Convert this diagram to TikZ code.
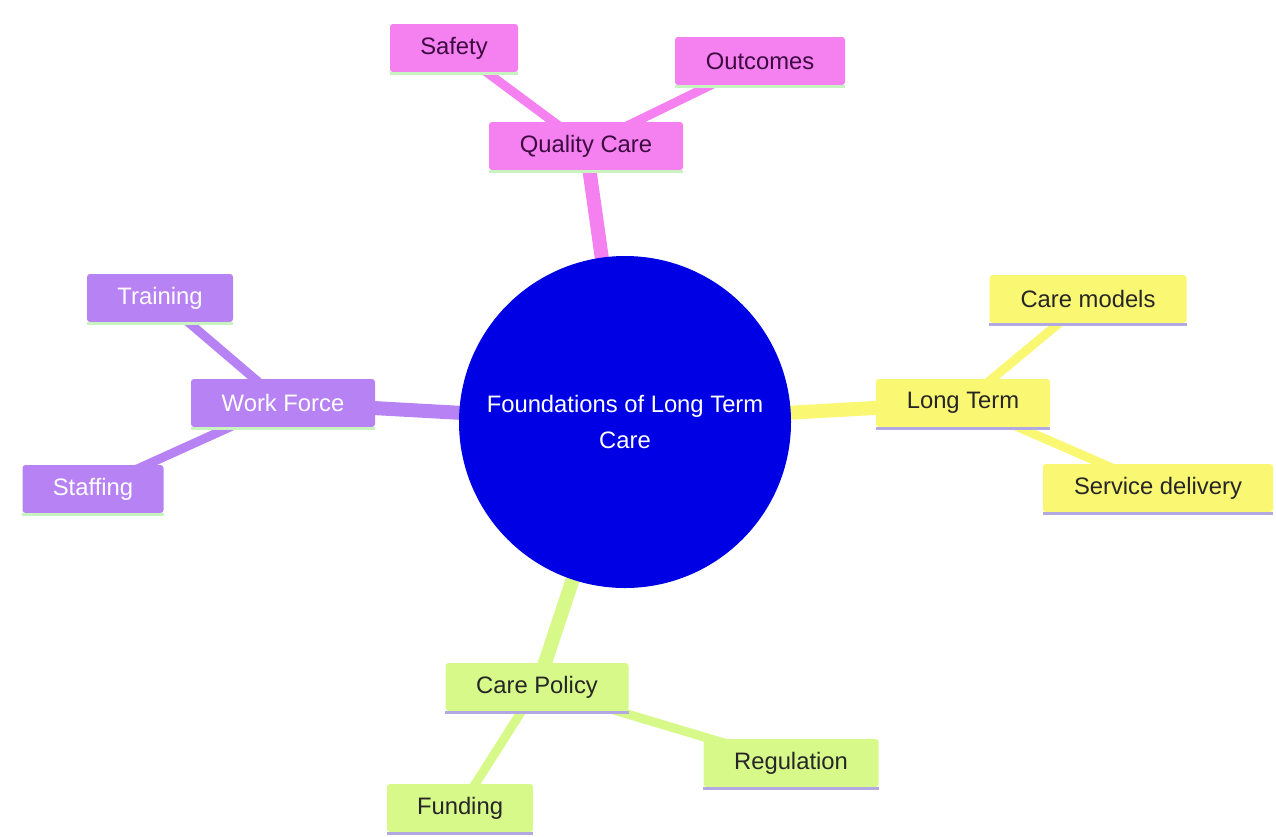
\documentclass[tikz,border=0pt]{standalone}
\usepackage{fontspec}
\setmainfont{Liberation Sans}
\usetikzlibrary{backgrounds}
\definecolor{pinkc}{HTML}{F580F0}
\definecolor{purpc}{HTML}{B782F3}
\definecolor{yellc}{HTML}{FAF772}
\definecolor{greenc}{HTML}{D7F98A}
\definecolor{bluec}{HTML}{0000E4}
\definecolor{ulgreen}{HTML}{C8F2C0}
\definecolor{ullav}{HTML}{B2A9E2}
\definecolor{pinktext}{HTML}{3C0A40}
\tikzset{
  box/.style={rounded corners=3pt, inner sep=0pt, minimum height=48pt, font=\fontsize{23.8}{28}\selectfont},
  pinkbox/.style={box, fill=pinkc, text=pinktext},
  purpbox/.style={box, fill=purpc, text=white},
  yellbox/.style={box, fill=yellc, text=black!85},
  greenbox/.style={box, fill=greenc, text=black!85},
  mainedge/.style={line width=14pt},
  subedge/.style={line width=9pt},
}
\newcommand{\ul}[2]{\draw[line width=3pt, #1] ([yshift=-1.5pt]#2.south west) -- ([yshift=-1.5pt]#2.south east);}
\begin{document}
\begin{tikzpicture}[x=1pt,y=-1pt]
\useasboundingbox (0,0) rectangle (1276,836);
% root
\node[circle, fill=bluec, minimum size=332pt, inner sep=0pt, text=white, align=center,
  font=\fontsize{23.8}{36}\selectfont] (root) at (625,422) {Foundations of Long Term\\Care};
% Quality Care branch
\node[pinkbox, minimum width=194pt] (qc) at (586,146) {Quality Care};
\node[pinkbox, minimum width=128pt] (saf) at (454,48) {Safety};
\node[pinkbox, minimum width=170pt] (out) at (760,61) {Outcomes};
% Work Force branch
\node[purpbox, minimum width=184pt] (wf) at (283,403) {Work Force};
\node[purpbox, minimum width=146pt] (tr) at (160,298) {Training};
\node[purpbox, minimum width=141pt] (st) at (93,489) {Staffing};
% Long Term branch
\node[yellbox, minimum width=174pt] (lt) at (963,403) {Long Term};
\node[yellbox, minimum width=197pt] (cm) at (1088,299) {Care models};
\node[yellbox, minimum width=230pt] (sd) at (1158,488) {Service delivery};
% Care Policy branch
\node[greenbox, minimum width=183pt] (cp) at (537,687) {Care Policy};
\node[greenbox, minimum width=175pt] (reg) at (791,763) {Regulation};
\node[greenbox, minimum width=146pt] (fun) at (460,808) {Funding};
% underlines
\ul{ulgreen}{qc}\ul{ulgreen}{saf}\ul{ulgreen}{out}
\ul{ulgreen}{wf}\ul{ulgreen}{tr}\ul{ulgreen}{st}
\ul{ullav}{lt}\ul{ullav}{cm}\ul{ullav}{sd}
\ul{ullav}{cp}\ul{ullav}{reg}\ul{ullav}{fun}
\begin{scope}[on background layer]
\draw[mainedge, pinkc] (root.center) -- (qc.center);
\draw[subedge, pinkc] (qc.center) -- (saf.center);
\draw[subedge, pinkc] (qc.center) -- (out.center);
\draw[mainedge, purpc] (root.center) -- (wf.center);
\draw[subedge, purpc] (wf.center) -- (tr.center);
\draw[subedge, purpc] (wf.center) -- (st.center);
\draw[mainedge, yellc] (root.center) -- (lt.center);
\draw[subedge, yellc] (lt.center) -- (cm.center);
\draw[subedge, yellc] (lt.center) -- (sd.center);
\draw[mainedge, greenc] (root.center) -- (cp.center);
\draw[subedge, greenc] (cp.center) -- (reg.center);
\draw[subedge, greenc] (cp.center) -- (fun.center);
\end{scope}
\end{tikzpicture}
\end{document}
